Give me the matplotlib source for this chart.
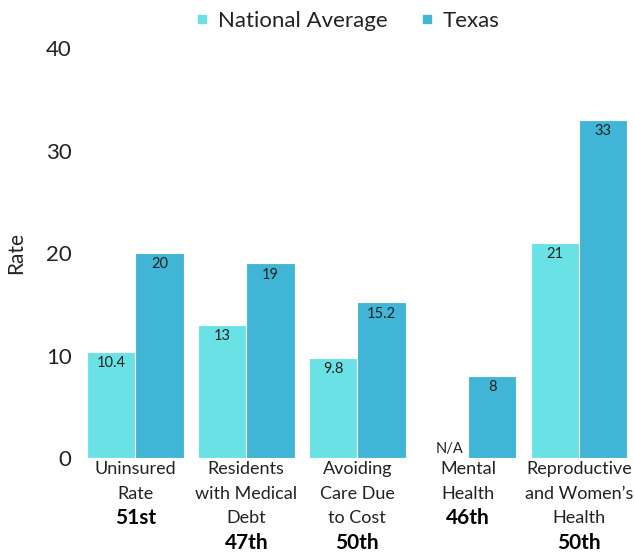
import matplotlib.pyplot as plt
import numpy as np
from matplotlib.lines import Line2D

plt.rcParams['font.family'] = ['Lato', 'DejaVu Sans']

categories = [
    ['Uninsured', 'Rate'],
    ['Residents', 'with Medical', 'Debt'],
    ['Avoiding', 'Care Due', 'to Cost'],
    ['Mental', 'Health'],
    ['Reproductive', "and Women\u2019s", 'Health'],
]
ranks = ['51st', '47th', '50th', '46th', '50th']
national = [10.4, 13, 9.8, None, 21]
texas = [20, 19, 15.2, 8, 33]
national_labels = ['10.4', '13', '9.8', 'N/A', '21']
texas_labels = ['20', '19', '15.2', '8', '33']

c_nat = '#6ae2e5'
c_tex = '#41b5d5'
txt = '#222222'

fig = plt.figure(figsize=(6.34, 5.52), dpi=100)
ax = fig.add_axes([0.126, 0.170, 0.875, 0.743])

x = np.arange(len(categories))
w = 0.435

nat_vals = [v if v is not None else 0 for v in national]
ax.bar(x - w / 2, nat_vals, w, color=c_nat, edgecolor='white', linewidth=0.8)
ax.bar(x + w / 2, texas, w, color=c_tex, edgecolor='white', linewidth=0.8)

# value labels just inside the top of each bar
for i in range(len(x)):
    if national[i] is None:
        ax.text(x[i] - w / 2 + 0.05, 0.9, national_labels[i], ha='center', va='center',
                fontsize=10.5, color=txt)
    else:
        ax.text(x[i] - w / 2, national[i] - 1.1, national_labels[i], ha='center', va='center',
                fontsize=10.5, color=txt)
    ax.text(x[i] + w / 2, texas[i] - 1.1, texas_labels[i], ha='center', va='center',
            fontsize=10.5, color=txt)

ax.set_xlim(-0.5, 4.5)
ax.set_ylim(0, 40)
ax.set_yticks([0, 10, 20, 30, 40])
ax.tick_params(axis='y', length=0, labelsize=16, labelcolor=txt, pad=6)
ax.set_xticks([])
for s in ax.spines.values():
    s.set_visible(False)
ax.set_ylabel('Rate', fontsize=15, color=txt, labelpad=14)

# category names with bold rank underneath
for i, lines in enumerate(categories):
    for j, line in enumerate(lines):
        ax.annotate(line, (x[i], 0), xycoords=('data', 'axes fraction'),
                    xytext=(0, -11 - 24.5 * j), textcoords='offset pixels',
                    ha='center', va='center', fontsize=13, color=txt)
    ax.annotate(ranks[i], (x[i], 0), xycoords=('data', 'axes fraction'),
                xytext=(0, -11 - 24.5 * len(lines)), textcoords='offset pixels',
                ha='center', va='center', fontsize=15, fontweight='bold', color='black')

handles = [Line2D([], [], marker='s', linestyle='', color=c_nat, markersize=6),
           Line2D([], [], marker='s', linestyle='', color=c_tex, markersize=6)]
leg = fig.legend(handles, ['National Average', 'Texas'], loc='upper center',
                 bbox_to_anchor=(0.545, 1.017), ncol=2, frameon=False, fontsize=16,
                 handletextpad=0.2, columnspacing=1.3, handlelength=1.0)
for t in leg.get_texts():
    t.set_color(txt)

fig.savefig('out.png', dpi=100)
